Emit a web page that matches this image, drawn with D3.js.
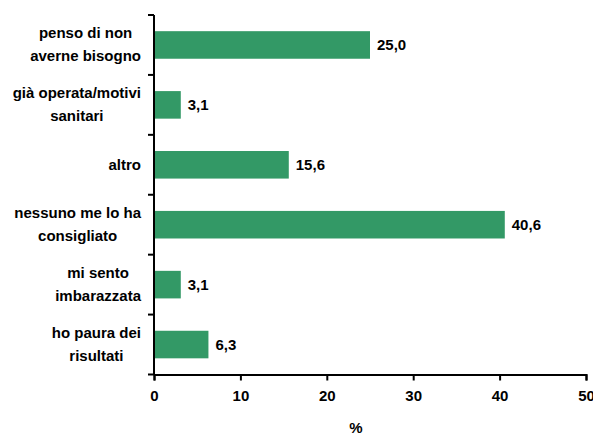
<!DOCTYPE html>
<html>
<head>
<meta charset="utf-8">
<script src="https://cdn.jsdelivr.net/npm/d3@7"></script>
<style>
  html, body { margin: 0; padding: 0; background: #fff; }
  svg { display: block; }
  text { font-family: "Liberation Sans", Arial, sans-serif; font-weight: bold; fill: #000; }
</style>
</head>
<body>
<svg id="chart" width="593" height="434"></svg>
<script>
// Reasons given, each split into the lines shown beside the bars
const categories = [
  ["penso di non", "averne bisogno"],
  ["già operata/motivi", "sanitari"],
  ["altro"],
  ["nessuno me lo ha", "consigliato"],
  ["mi sento", "imbarazzata"],
  ["ho paura dei", "risultati"]
];
const values = [25.0, 3.1, 15.6, 40.6, 3.1, 6.3];
const xTicks = [0, 10, 20, 30, 40, 50];
const xTitle = "%";

const svg = d3.select("#chart");
const barColor = "#339966";
const fontSize = 15;

const keys = categories.map(c => c.join(" "));

const x = d3.scaleLinear().domain([0, 50]).range([154, 586]);
const y = d3.scaleBand().domain(keys).range([15, 374.5])
  .paddingInner(0.54).paddingOuter(0.27);

// Bars
svg.append("g").selectAll("rect")
  .data(values)
  .join("rect")
  .attr("x", x(0))
  .attr("y", (d, i) => y(keys[i]))
  .attr("width", d => x(d) - x(0))
  .attr("height", y.bandwidth())
  .attr("fill", barColor);

// Value labels
const fmt = v => v.toFixed(1).replace(".", ",");
svg.append("g").selectAll("text")
  .data(values)
  .join("text")
  .attr("x", d => x(d) + 7)
  .attr("y", (d, i) => y(keys[i]) + y.bandwidth() / 2 + 5)
  .attr("font-size", fontSize)
  .text(fmt);

// X axis
const xAxis = svg.append("g")
  .attr("transform", `translate(0,${y.range()[1]})`)
  .call(d3.axisBottom(x).tickValues(xTicks).tickSize(6).tickPadding(10).tickFormat(d3.format("d")));
xAxis.select(".domain").attr("stroke", "#000").attr("stroke-width", 2);
xAxis.selectAll(".tick line").attr("stroke", "#000").attr("stroke-width", 2);
xAxis.selectAll(".tick text")
  .attr("font-size", fontSize)
  .attr("font-family", "Liberation Sans, Arial, sans-serif")
  .attr("font-weight", "bold")
  .attr("fill", "#000");

// Y axis: line with ticks on the category boundaries
const yTop = y.range()[0], yBot = y.range()[1];
const yAxis = svg.append("g");
yAxis.append("line")
  .attr("x1", x(0)).attr("x2", x(0))
  .attr("y1", yTop).attr("y2", yBot)
  .attr("stroke", "#000").attr("stroke-width", 2);
const bounds = d3.range(keys.length + 1).map(i => yTop + i * y.step());
yAxis.selectAll("line.tk")
  .data(bounds)
  .join("line")
  .attr("class", "tk")
  .attr("x1", x(0) - 6).attr("x2", x(0))
  .attr("y1", d => d).attr("y2", d => d)
  .attr("stroke", "#000").attr("stroke-width", 2);

// Category labels: each block right-aligned, its lines centred within it
const labelRight = 141;
const lineGap = 23;
categories.forEach((lines, i) => {
  const cy = y(keys[i]) + y.bandwidth() / 2;
  const g = svg.append("g");
  const texts = lines.map((ln, j) => g.append("text")
    .attr("font-size", fontSize)
    .attr("text-anchor", "middle")
    .attr("y", cy + (j - (lines.length - 1) / 2) * lineGap + 5)
    .text(ln));
  const w = d3.max(texts, t => t.node().getComputedTextLength());
  texts.forEach(t => t.attr("x", labelRight - w / 2));
});

// Axis title
svg.append("text")
  .attr("x", 356)
  .attr("y", 433)
  .attr("text-anchor", "middle")
  .attr("font-size", fontSize)
  .text(xTitle);
</script>
</body>
</html>
